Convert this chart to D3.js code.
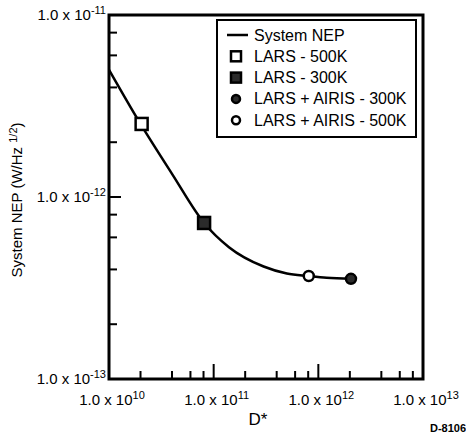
<!DOCTYPE html>
<html>
<head>
<meta charset="utf-8">
<script src="https://cdn.jsdelivr.net/npm/d3@7"></script>
<style>
  body { margin: 0; background: #fff; }
  svg { font-family: "Liberation Sans", Arial, Helvetica, sans-serif; }
</style>
</head>
<body>
<svg width="466" height="434"></svg>
<script>
// curve (D*, NEP)
var curveD   = [1e10, 2e10, 4e10, 8.1e10, 1.4e11, 3e11, 5e11, 8.1e11, 1.2e12, 2.05e12];
var curveNEP = [5e-12, 2.52e-12, 1.34e-12, 7.2e-13, 5.3e-13, 4.15e-13, 3.8e-13, 3.68e-13, 3.6e-13, 3.55e-13];

// the four marked points
var pointNames = ["LARS - 500K", "LARS - 300K", "LARS + AIRIS - 300K", "LARS + AIRIS - 500K"];
var pointD     = [2.05e10, 8.1e10, 2.05e12, 8.1e11];
var pointNEP   = [2.52e-12, 7.2e-13, 3.55e-13, 3.68e-13];
var pointShape = ["openSquare", "filledSquare", "filledCircle", "openCircle"];

var legendNames = ["System NEP"].concat(pointNames);

// axis ticks
var xMajor = [1e10, 1e11, 1e12, 1e13];
var xExp   = ["10", "11", "12", "13"];
var yMajor = [1e-11, 1e-12, 1e-13];
var yExp   = ["-11", "-12", "-13"];
var minorMult = [2, 4, 6, 8];

var svg = d3.select("svg");
var plot = { left: 109, right: 423, top: 15, bottom: 379 };

var x = d3.scaleLog().domain([1e10, 1e13]).range([plot.left, plot.right]);
var y = d3.scaleLog().domain([1e-13, 1e-11]).range([plot.bottom, plot.top]);

// minor + inner major ticks
var xTicks = [], yTicks = [];
[1e10, 1e11, 1e12].forEach(function (d) {
    minorMult.forEach(function (m) { xTicks.push({ v: d * m, major: false }); });
    if (d * 10 < 1e13) xTicks.push({ v: d * 10, major: true });
});
[1e-13, 1e-12].forEach(function (d) {
    minorMult.forEach(function (m) { yTicks.push({ v: d * m, major: false }); });
    if (d * 10 < 1e-11) yTicks.push({ v: d * 10, major: true });
});

var g = svg.append("g");

g.selectAll(".xt").data(xTicks).enter().append("line")
    .attr("x1", function (d) { return x(d.v); })
    .attr("x2", function (d) { return x(d.v); })
    .attr("y1", plot.bottom)
    .attr("y2", function (d) { return plot.bottom - (d.major ? 15 : 8); })
    .attr("stroke", "#000").attr("stroke-width", 2);

g.selectAll(".yt").data(yTicks).enter().append("line")
    .attr("y1", function (d) { return y(d.v); })
    .attr("y2", function (d) { return y(d.v); })
    .attr("x1", plot.left)
    .attr("x2", function (d) { return plot.left + (d.major ? 12 : 8); })
    .attr("stroke", "#000").attr("stroke-width", 2);

// frame
g.append("rect")
    .attr("x", plot.left).attr("y", plot.top)
    .attr("width", plot.right - plot.left).attr("height", plot.bottom - plot.top)
    .attr("fill", "none").attr("stroke", "#000").attr("stroke-width", 3);

// tick labels with superscript exponents
var xl = g.selectAll(".xl").data(xMajor).enter().append("text")
    .attr("x", function (d) { return x(d) + 3; })
    .attr("y", 405)
    .attr("text-anchor", "middle")
    .attr("font-size", 15);
xl.append("tspan").text("1.0 x 10");
xl.append("tspan").attr("dy", -6).attr("font-size", 11)
    .text(function (d, i) { return xExp[i]; });

var yl = g.selectAll(".yl").data(yMajor).enter().append("text")
    .attr("x", 106)
    .attr("y", function (d) { return y(d) + 5; })
    .attr("text-anchor", "end")
    .attr("font-size", 15);
yl.append("tspan").text("1.0 x 10");
yl.append("tspan").attr("dy", -6).attr("font-size", 11)
    .text(function (d, i) { return yExp[i]; });

// axis titles
var yt = svg.append("text")
    .attr("transform", "translate(22,200) rotate(-90)")
    .attr("text-anchor", "middle")
    .attr("font-size", 15);
yt.append("tspan").text("System NEP (W/Hz ");
yt.append("tspan").attr("dy", -5).attr("font-size", 11).text("1/2");
yt.append("tspan").attr("dy", 5).text(")");

svg.append("text").attr("x", 258).attr("y", 425)
    .attr("text-anchor", "middle").attr("font-size", 17).text("D*");

svg.append("text").attr("x", 448).attr("y", 432)
    .attr("text-anchor", "middle").attr("font-size", 11)
    .attr("font-weight", "bold").text("D-8106");

// curve
var curve = curveD.map(function (d, i) { return [d, curveNEP[i]]; });
var line = d3.line()
    .x(function (d) { return x(d[0]); })
    .y(function (d) { return y(d[1]); })
    .curve(d3.curveMonotoneX);

g.append("path").datum(curve)
    .attr("d", line)
    .attr("fill", "none").attr("stroke", "#000").attr("stroke-width", 2.5);

// marker drawing
function drawMarker(sel, shape, cx, cy, s) {
    if (shape === "openSquare" || shape === "filledSquare") {
        sel.append("rect")
            .attr("x", cx - s / 2).attr("y", cy - s / 2)
            .attr("width", s).attr("height", s)
            .attr("fill", shape === "openSquare" ? "#fff" : "#2b2b2b")
            .attr("stroke", "#000").attr("stroke-width", 2.5);
    } else {
        sel.append("circle")
            .attr("cx", cx).attr("cy", cy).attr("r", s / 2 - 0.5)
            .attr("fill", shape === "openCircle" ? "#fff" : "#2b2b2b")
            .attr("stroke", "#000").attr("stroke-width", 2.5);
    }
}

pointD.forEach(function (d, i) {
    drawMarker(g, pointShape[i], x(d), y(pointNEP[i]), pointShape[i].indexOf("Square") > 0 ? 12 : 11);
});

// legend
var leg = svg.append("g");
leg.append("rect")
    .attr("x", 217).attr("y", 20).attr("width", 199).attr("height", 117)
    .attr("fill", "#fff").attr("stroke", "#000").attr("stroke-width", 2);

var rowY = function (i) { return 35 + i * 21.3; };

leg.append("line")
    .attr("x1", 227).attr("x2", 248)
    .attr("y1", rowY(0)).attr("y2", rowY(0))
    .attr("stroke", "#000").attr("stroke-width", 2.5);

pointShape.forEach(function (s, i) {
    drawMarker(leg, s, 236, rowY(i + 1), s.indexOf("Square") > 0 ? 10 : 9);
});

leg.selectAll(".lt").data(legendNames).enter().append("text")
    .attr("x", 254)
    .attr("y", function (d, i) { return rowY(i) + 5.5; })
    .attr("font-size", 16)
    .text(function (d) { return d; });
</script>
</body>
</html>
